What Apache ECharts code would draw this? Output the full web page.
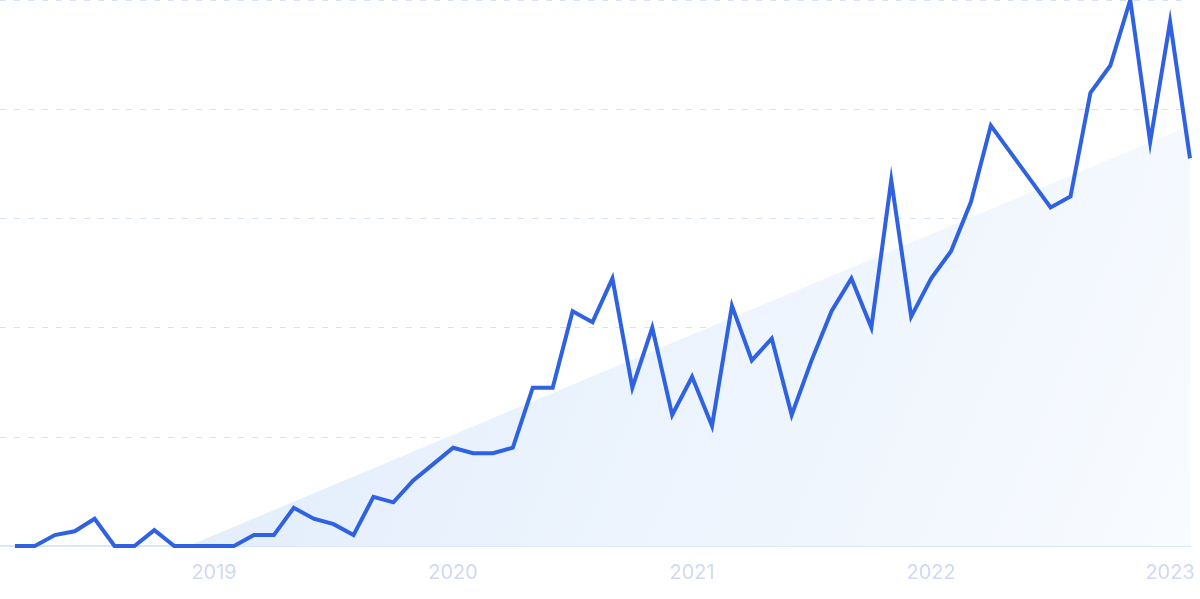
<!DOCTYPE html>
<html>
<head>
<meta charset="utf-8">
<script src="https://cdn.jsdelivr.net/npm/echarts@6/dist/echarts.min.js"></script>
<style>
html,body{margin:0;padding:0;background:#fff;}
#chart{width:1200px;height:599px;}
</style>
</head>
<body>
<div id="chart"></div>
<script>
const months = [
  '2018-03','2018-04','2018-05','2018-06','2018-07','2018-08','2018-09','2018-10','2018-11','2018-12',
  '2019-01','2019-02','2019-03','2019-04','2019-05','2019-06','2019-07','2019-08','2019-09','2019-10','2019-11','2019-12',
  '2020-01','2020-02','2020-03','2020-04','2020-05','2020-06','2020-07','2020-08','2020-09','2020-10','2020-11','2020-12',
  '2021-01','2021-02','2021-03','2021-04','2021-05','2021-06','2021-07','2021-08','2021-09','2021-10','2021-11','2021-12',
  '2022-01','2022-02','2022-03','2022-04','2022-05','2022-06','2022-07','2022-08','2022-09','2022-10','2022-11','2022-12',
  '2023-01','2023-02'
];
const values = [
  0, 0, 2, 2.7, 5, 0, 0, 2.9, 0, 0,
  0, 0, 2, 2, 7, 5, 4, 2, 9, 8, 12, 15,
  18, 17, 17, 18, 29, 29, 43, 41, 49, 29, 40, 24,
  31, 22, 44, 34, 38, 24, 34, 43, 49, 40, 67, 42,
  49, 54, 63, 77, 72, 67, 62, 64, 83, 88, 100, 74,
  96, 71
];
// trend line endpoints: [month index, value]
const trendLine = [[8.7, 0], [59, 77]];
const yearTicks = [10, 22, 34, 46, 58];

const chart = echarts.init(document.getElementById('chart'), null, {renderer: 'canvas'});
chart.setOption({
  animation: false,
  grid: {left: 0, right: 10, top: 0, bottom: 53, containLabel: false},
  xAxis: {
    type: 'value',
    min: -0.75,
    max: 59,
    axisLine: {show: true, lineStyle: {color: '#d8e7fb', width: 2}},
    axisTick: {show: false},
    splitLine: {show: false},
    axisLabel: {
      customValues: yearTicks,
      margin: 17,
      color: '#cfd9f5',
      fontFamily: 'Inter',
      fontSize: 20,
      formatter: function (v) { return months[Math.round(v)].slice(0, 4); }
    }
  },
  yAxis: {
    type: 'value',
    min: 0,
    max: 100,
    interval: 20,
    axisLine: {show: false},
    axisTick: {show: false},
    axisLabel: {show: false},
    splitLine: {show: true, lineStyle: {color: '#d6e1fa', type: [6, 8], width: 1}}
  },
  series: [
    {
      type: 'line',
      data: trendLine,
      symbol: 'none',
      silent: true,
      lineStyle: {width: 0, opacity: 0},
      areaStyle: {
        color: new echarts.graphic.LinearGradient(0, 0, 1, 1, [
          {offset: 0, color: '#e0ecfb'},
          {offset: 1, color: '#f8fbff'}
        ]),
        opacity: 1
      },
      z: 1
    },
    {
      type: 'line',
      data: values.map((v, i) => [i, v]),
      symbol: 'none',
      lineStyle: {color: '#2f62e3', width: 4, join: 'miter'},
      z: 3
    }
  ]
});
</script>
</body>
</html>
